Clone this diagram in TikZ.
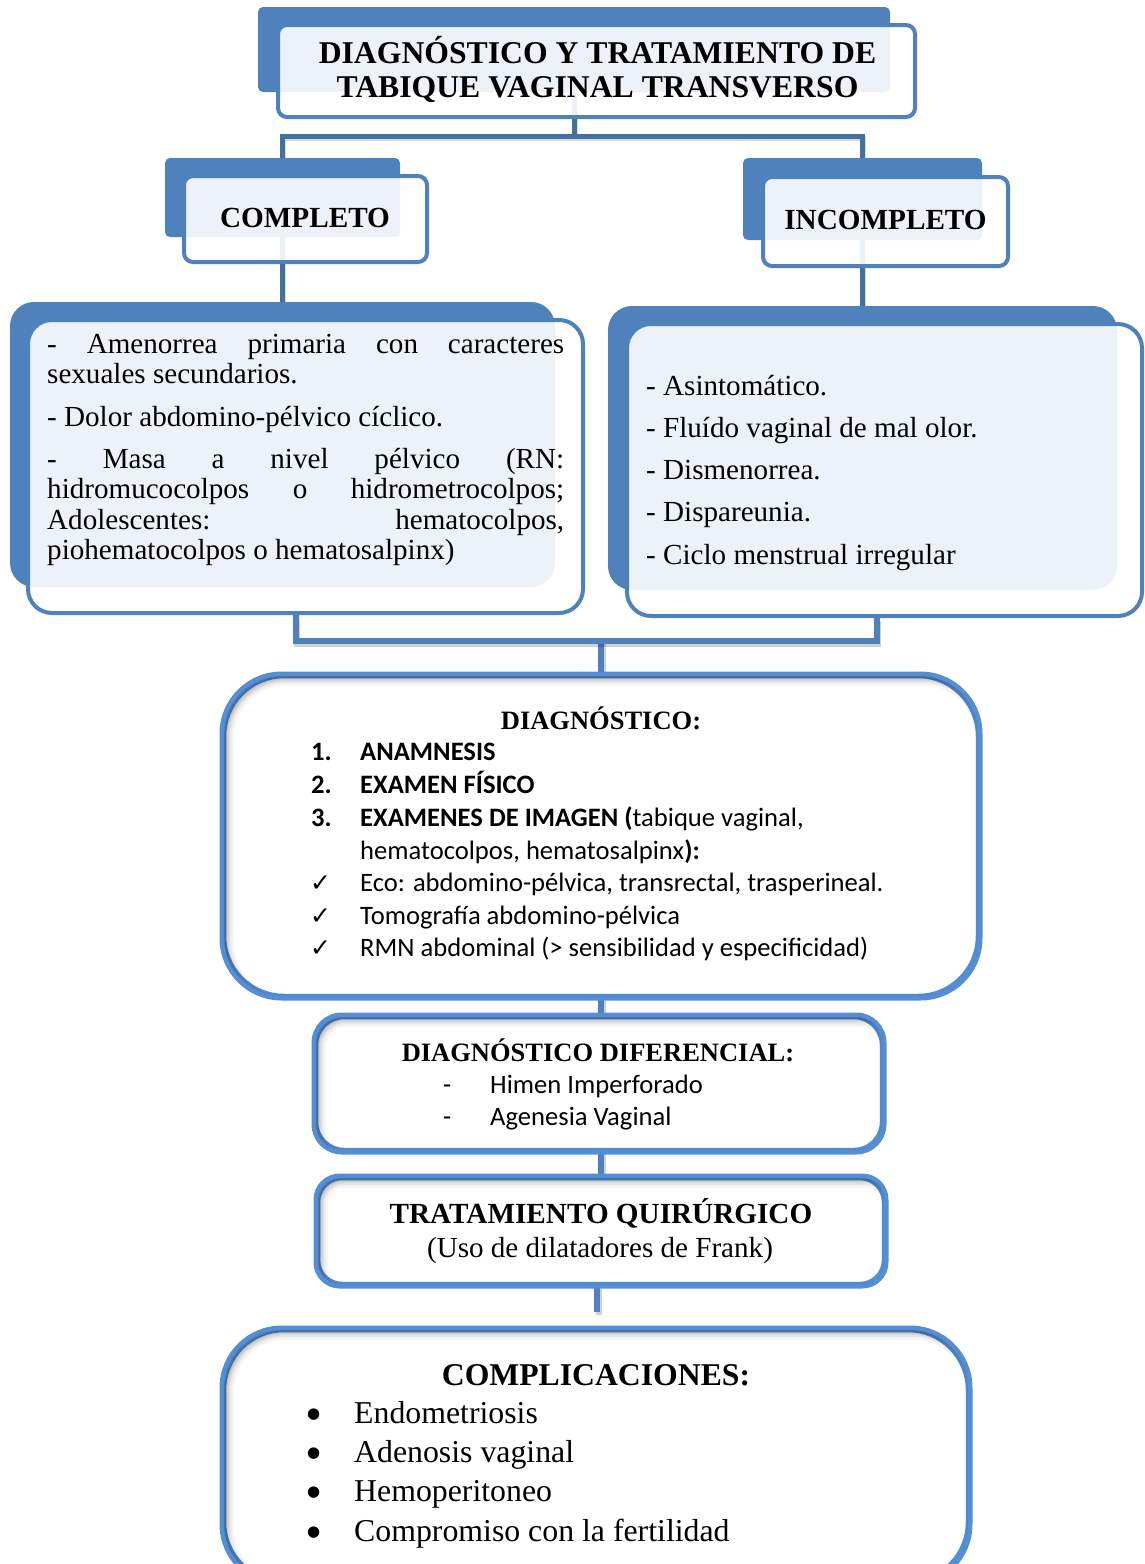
\documentclass[tikz,border=0pt]{standalone}
\usepackage{fontspec}
\setmainfont{Liberation Serif}
\newfontfamily\calib{Carlito}
\newfontfamily\djv{DejaVu Sans}
\usetikzlibrary{calc}
\pgfdeclarelayer{bg}
\pgfsetlayers{bg,main}
\definecolor{dblue}{HTML}{4F81BD}
\definecolor{bblue}{HTML}{558ED5}
\definecolor{cblue}{HTML}{41719C}
\newcommand\topstrut{\leavevmode\vrule width 0pt height 25pt depth 0pt\relax}
\newcommand\jpar[1]{\parbox[t]{517pt}{\hyphenpenalty=10000\relax\topstrut #1}}
\tikzset{
 backbox/.style={rectangle, fill=dblue, rounded corners=#1, inner sep=0pt},
 backbox/.default=5pt,
 frontbox/.style={rectangle, draw=dblue, line width=4pt, fill=white, fill opacity=0.9, text opacity=1, rounded corners=#1, inner sep=0pt},
 frontbox/.default=9pt,
 lowbox/.style={rectangle, draw=bblue, line width=4.5pt, fill=white, rounded corners=#1, inner sep=0pt},
 conn/.style={line width=5pt, draw=cblue, preaction={draw=black, draw opacity=.15, line width=5pt, transform canvas={shift={(1pt,-2pt)}}}},
 conntwo/.style={line width=6pt, draw=dblue, preaction={draw=black, draw opacity=.18, line width=6pt, transform canvas={shift={(1.5pt,-2.5pt)}}}},
 ttl/.style={inner sep=0pt, anchor=base, font=\fontsize{31.7}{34}\selectfont\bfseries},
 hd/.style={inner sep=0pt, anchor=base, font=\fontsize{29.2}{31}\selectfont\bfseries},
 para/.style={inner sep=0pt, anchor=north west, font=\fontsize{29.1}{30.5}\selectfont},
 tnr/.style={inner sep=0pt, anchor=base west, font=\fontsize{29.1}{31}\selectfont},
 shd/.style={inner sep=0pt, anchor=base, font=\fontsize{26.5}{29}\selectfont\bfseries},
 cal/.style={inner sep=0pt, anchor=base west, font=\fontsize{26.6}{32}\selectfont\calib},
 chk/.style={inner sep=0pt, anchor=base west, font=\fontsize{25}{28}\selectfont\djv},
 bul/.style={inner sep=0pt, anchor=base west, font=\fontsize{15}{18}\selectfont\djv},
 big/.style={inner sep=0pt, anchor=base west, font=\fontsize{31.8}{38}\selectfont},
 bighd/.style={inner sep=0pt, anchor=base, font=\fontsize{31.7}{38}\selectfont\bfseries},
}
\newcommand\innershadow[2]{%
 \begin{scope}
 \clip[rounded corners=#2] (#1.north west) rectangle (#1.south east);
 \foreach \w/\o in {16/0.04,11/0.05,7/0.07,3/0.09}
   \draw[black, opacity=\o, line width=\w pt, rounded corners=#2] ([shift={(4pt,-4pt)}]#1.north west) rectangle ([shift={(4pt,-4pt)}]#1.south east);
 \end{scope}
 \draw[draw=bblue, line width=4.5pt, rounded corners=#2] (#1.north west) rectangle (#1.south east);}
\begin{document}
\begin{tikzpicture}[x=1pt,y=-1pt]
\useasboundingbox (0,0) rectangle (1144,1564);
% ---------- top level boxes
\node[backbox, minimum width=632pt, minimum height=85pt] (tb) at (574,49.5) {};
\node[frontbox, minimum width=637pt, minimum height=92pt] (tf) at (596.5,71) {};
\node[backbox, minimum width=235pt, minimum height=79pt] (cb) at (282.5,197.5) {};
\node[frontbox, minimum width=243pt, minimum height=86pt] (cf) at (305.5,219) {};
\node[backbox, minimum width=239pt, minimum height=82pt] (ib) at (862.5,199) {};
\node[frontbox, minimum width=245pt, minimum height=89pt] (if) at (885.5,221.5) {};
\node[backbox=24pt, minimum width=545pt, minimum height=285pt] (lb) at (282.5,444.5) {};
\node[frontbox=24pt, minimum width=555pt, minimum height=293pt] (lf) at (305.5,466.5) {};
\node[backbox=24pt, minimum width=509pt, minimum height=284pt] (rb) at (862.5,448) {};
\node[frontbox=24pt, minimum width=515pt, minimum height=292pt] (rf) at (884.5,470) {};
% ---------- lower boxes
\node[lowbox=60pt, minimum width=754pt, minimum height=320pt] (dg) at (601,836) {};
\innershadow{dg}{60pt}
\node[lowbox=28pt, minimum width=566pt, minimum height=133pt] (df) at (599,1083.5) {};
\innershadow{df}{28pt}
\node[lowbox=24pt, minimum width=566pt, minimum height=106pt] (tr) at (601,1231) {};
\innershadow{tr}{24pt}
\node[lowbox=60pt, minimum width=744pt, minimum height=252pt] (cp) at (596,1456) {};
\innershadow{cp}{60pt}
% ---------- connectors
\coordinate (hb) at (0,136);
\coordinate (hbr) at (0,641);
\coordinate (tend) at (597,1312);
\begin{pgfonlayer}{bg}
\draw[conn] (tb.center) -- (tb.center |- hb);
\draw[conn] (cb.center) |- (ib.center |- hb) -- (ib.center);
\draw[conn] (cb.center) -- (cb.center |- lb.center);
\draw[conn] (ib.center) -- (ib.center |- rb.center);
\end{pgfonlayer}
\draw[conntwo] ([xshift=-10pt]lf.south) -- ([xshift=-10pt]lf.south |- hbr) -- ([xshift=-8pt]rf.south |- hbr) -- ([xshift=-8pt]rf.south);
\begin{pgfonlayer}{bg}
\draw[conntwo] (dg.north |- hbr) -- (dg.north);
\draw[conntwo] (dg.south) -- (dg.south |- df.north);
\draw[conntwo] (df.south -| tr.north) -- (tr.north);
\draw[conntwo] (tr.south -| tend) -- (tend);
\end{pgfonlayer}
% ---------- texts
\node[ttl] (t1) at (597.5,63.5) {DIAGNÓSTICO Y TRATAMIENTO DE};
\node[ttl] (t2) at (597.5,97.5) {TABIQUE VAGINAL TRANSVERSO};
\node[hd] (c1) at (305,227.6) {COMPLETO};
\node[hd] (i1) at (885.5,229.6) {INCOMPLETO};
\node[para] (l1) at (47,328) {\jpar{- Amenorrea primaria con caracteres\linebreak sexuales secundarios.}};
\node[para] (l2) at (47,401) {\jpar{- Dolor abdomino-pélvico cíclico.}};
\node[para] (l3) at (47,443) {\jpar{- Masa a nivel pélvico (RN:\linebreak hidromucocolpos o hidrometrocolpos;\linebreak Adolescentes: hematocolpos,\linebreak piohematocolpos o hematosalpinx)}};
\node[tnr] (r1) at (646,395) {- Asintomático.};
\node[tnr] (r2) at (646,437) {- Fluído vaginal de mal olor.};
\node[tnr] (r3) at (646,479) {- Dismenorrea.};
\node[tnr] (r4) at (646,521) {- Dispareunia.};
\node[tnr] (r5) at (646,564) {- Ciclo menstrual irregular};
% diagnostico
\node[shd] (dh) at (601,729) {DIAGNÓSTICO:};
\node[cal] (n1) at (311,760.5) {\bfseries 1.};
\node[cal] (d1) at (360,760.5) {\bfseries ANAMNESIS};
\node[cal] (n2) at (311,793.5) {\bfseries 2.};
\node[cal] (d2) at (360,793.5) {\bfseries EXAMEN FÍSICO};
\node[cal] (n3) at (311,826.5) {\bfseries 3.};
\node[cal] (d3) at (360,826.5) {\textbf{EXAMENES DE IMAGEN (}tabique vaginal,};
\node[cal] (d4) at (360,859.5) {hematocolpos, hematosalpinx\textbf{):}};
\node[chk] (k1) at (310,891.5) {✓};
\node[cal] (d5) at (360,891.5) {Eco: abdomino-pélvica, transrectal, trasperineal.};
\node[chk] (k2) at (310,924.5) {✓};
\node[cal] (d6) at (360,924.5) {Tomografía abdomino-pélvica};
\node[chk] (k3) at (310,956.5) {✓};
\node[cal] (d7) at (360,956.5) {RMN abdominal (> sensibilidad y especificidad)};
% diferencial
\node[shd] (fh) at (598,1061) {DIAGNÓSTICO DIFERENCIAL:};
\node[cal] (m1) at (443,1093.5) {-};
\node[cal] (f1) at (490,1093.5) {Himen Imperforado};
\node[cal] (m2) at (443,1125.5) {-};
\node[cal] (f2) at (490,1125.5) {Agenesia Vaginal};
% tratamiento
\node[hd] (th) at (601,1223.6) {TRATAMIENTO QUIRÚRGICO};
\node[tnr, anchor=base] (ts) at (600,1257.6) {(Uso de dilatadores de Frank)};
% complicaciones
\node[bighd] (ch) at (596,1385.5) {COMPLICACIONES:};
\node[bul] (b1) at (307,1418) {●};
\node[big] (e1) at (354,1423) {Endometriosis};
\node[bul] (b2) at (307,1457) {●};
\node[big] (e2) at (354,1462) {Adenosis vaginal};
\node[bul] (b3) at (307,1496) {●};
\node[big] (e3) at (354,1501) {Hemoperitoneo};
\node[bul] (b4) at (307,1536) {●};
\node[big] (e4) at (354,1541) {Compromiso con la fertilidad};
\end{tikzpicture}
\end{document}
